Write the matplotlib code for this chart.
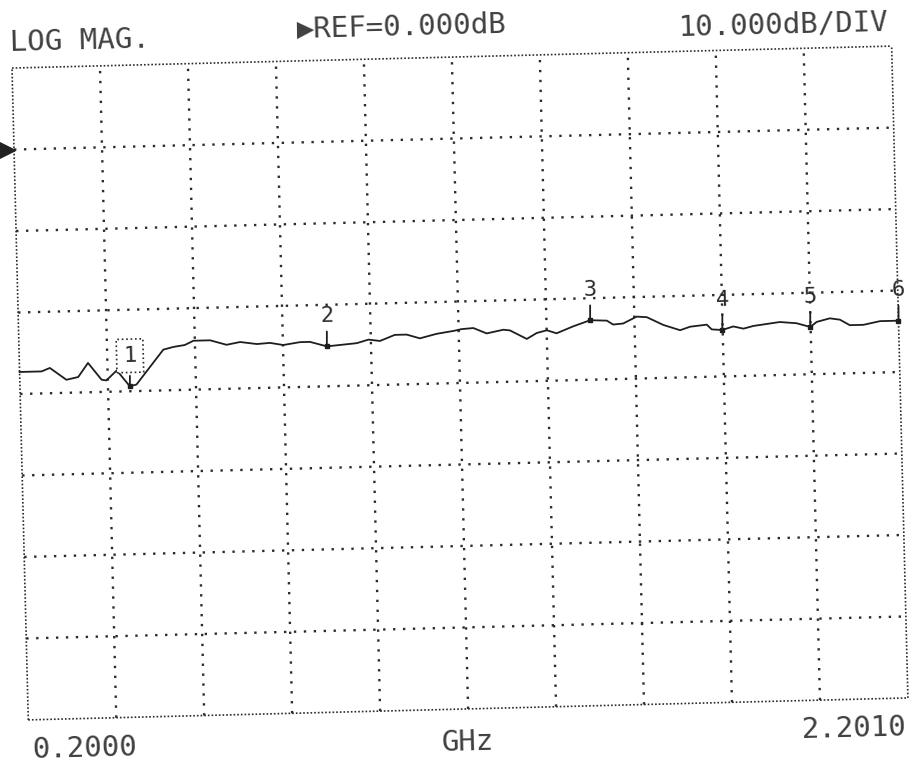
import numpy as np
import matplotlib
matplotlib.use("Agg")
import matplotlib.pyplot as plt
from matplotlib.transforms import Affine2D, offset_copy

# trace (GHz, dB)
freq_ghz = [0.200, 0.250, 0.269, 0.306, 0.333, 0.356, 0.386, 0.397, 0.421, 0.450,
            0.465, 0.489, 0.528, 0.551, 0.577, 0.597, 0.635, 0.672, 0.703, 0.741,
            0.771, 0.801, 0.839, 0.862, 0.900, 0.968, 0.995, 1.021, 1.055, 1.082,
            1.112, 1.150, 1.188, 1.207, 1.234, 1.264, 1.302, 1.317, 1.355, 1.378,
            1.401, 1.423, 1.461, 1.500, 1.538, 1.552, 1.575, 1.606, 1.629, 1.666,
            1.704, 1.727, 1.765, 1.776, 1.800, 1.825, 1.848, 1.871, 1.931, 1.969,
            2.000, 2.015, 2.045, 2.068, 2.090, 2.121, 2.159, 2.201]
mag_db = [-27.3, -27.3, -26.9, -28.4, -28.1, -26.4, -28.5, -28.6, -27.4, -29.4,
          -29.2, -27.6, -25.0, -24.7, -24.5, -24.0, -24.0, -24.6, -24.3, -24.6,
          -24.5, -24.8, -24.5, -24.5, -25.1, -24.8, -24.4, -24.6, -23.9, -23.9,
          -24.4, -23.9, -23.6, -23.4, -23.3, -24.0, -23.6, -23.7, -24.8, -24.1,
          -23.8, -24.2, -23.4, -22.7, -22.8, -23.3, -23.2, -22.4, -22.5, -23.5,
          -24.2, -23.8, -23.6, -24.2, -24.3, -23.9, -24.2, -23.9, -23.5, -23.7,
          -24.2, -23.6, -23.2, -23.4, -24.1, -24.1, -23.7, -23.7]

marker_labels = ["1", "2", "3", "4", "5", "6"]
marker_freq = [0.450, 0.900, 1.500, 1.800, 2.000, 2.201]
marker_db = [-29.4, -25.1, -22.7, -24.3, -24.2, -23.7]

f_start, f_stop = 0.2000, 2.2010
ref_db, db_per_div = 0.0, 10.0
n_xdiv, n_ydiv = 10, 8
top_db = ref_db + db_per_div
bottom_db = top_db - n_ydiv * db_per_div

ink = "#2b2b2b"
skew = 1.43  # the printout was scanned slightly rotated

fig = plt.figure(figsize=(9.09, 7.71), dpi=100)
fig.patch.set_facecolor("white")
ax = fig.add_axes([0.022, 0.0804, 0.968, 0.8457])
ax.set_xlim(f_start, f_stop)
ax.set_ylim(bottom_db, top_db)
ax.axis("off")

rot = Affine2D().rotate_deg_around(460, 388, skew)
tr = ax.transData + rot
tra = ax.transAxes + rot

# graticule
xs = np.linspace(f_start, f_stop, n_xdiv + 1)
ys = np.linspace(bottom_db, top_db, n_ydiv + 1)
for i, x in enumerate(xs):
    edge = i in (0, n_xdiv)
    ax.plot([x, x], [bottom_db, top_db], color=ink, transform=tr, clip_on=False,
            lw=1.2 if edge else 1.7, ls=(0, (1, 1.2)) if edge else (0, (1, 3.2)),
            dash_capstyle="butt")
for i, y in enumerate(ys):
    edge = i in (0, n_ydiv)
    ax.plot([f_start, f_stop], [y, y], color=ink, transform=tr, clip_on=False,
            lw=1.2 if edge else 1.7, ls=(0, (1, 1.2)) if edge else (0, (1, 3.2)),
            dash_capstyle="butt")

# reference level pointer
ax.plot([f_start], [ref_db], marker=">", ms=13, color="#222", clip_on=False,
        transform=offset_copy(tr, fig, x=-8, y=0, units="dots"))

# trace
ax.plot(freq_ghz, mag_db, color="#1e1e1e", lw=1.3, transform=tr, clip_on=False)

# markers
ax.plot(marker_freq, marker_db, ls="none", marker="s", ms=3.5, color="#1e1e1e",
        transform=tr, clip_on=False)
for lab, f, d in zip(marker_labels, marker_freq, marker_db):
    box = None
    if lab == "1":
        box = dict(boxstyle="square,pad=0.3", fc="white", ec=ink, ls=":", lw=1.2)
    ax.annotate(lab, xy=(f, d), xycoords=tr, xytext=(0, 22), textcoords="offset points",
                ha="center", va="center", fontsize=16, color=ink, rotation=skew,
                family="DejaVu Sans Mono", bbox=box, annotation_clip=False,
                arrowprops=dict(arrowstyle="-", color="#1e1e1e", lw=1.3,
                                shrinkA=2, shrinkB=0))

# header / footer annotations
kw = dict(transform=tra, rotation=skew, rotation_mode="anchor", color="#404040",
          fontsize=21, family=["DejaVu Sans Mono", "DejaVu Sans"])
ax.text(-0.002, 1.038, "LOG MAG.", ha="left", va="center", **kw)
ax.text(0.325, 1.047, "\u25b6REF=0.000dB", ha="left", va="center", **kw)
ax.text(0.997, 1.037, "10.000dB/DIV", ha="right", va="center", **kw)
ax.text(0.003, -0.047, "0.2000", ha="left", va="center", **kw)
ax.text(0.498, -0.051, "GHz", ha="center", va="center", **kw)
ax.text(0.998, -0.045, "2.2010", ha="right", va="center", **kw)

fig.savefig("out.png", dpi=100, facecolor="white")
